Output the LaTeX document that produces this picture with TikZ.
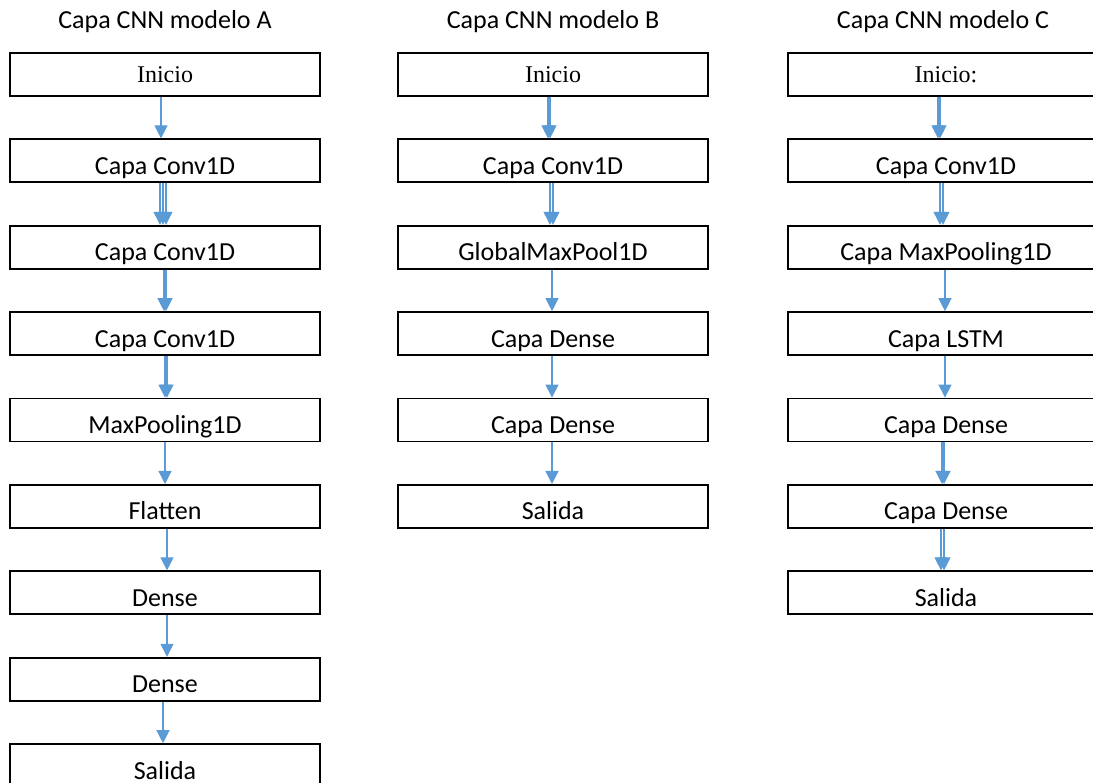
\documentclass[tikz,border=0pt]{standalone}
\usepackage{fontspec}
\setmainfont{Carlito}
\newfontfamily\serifrm{Liberation Serif}
\usetikzlibrary{arrows.meta}
\definecolor{flowblue}{RGB}{91,155,213}
\begin{document}
\begin{tikzpicture}[x=1pt,y=-1pt,
  layer/.style={draw=black, line width=1.8pt, minimum width=310pt, minimum height=43pt,
    inner sep=0pt, anchor=north, text height=27pt, text depth=0pt,
    font=\fontsize{26}{30}\selectfont},
  start/.style={layer, text height=17pt, font=\serifrm\fontsize{24}{28}\selectfont},
  heading/.style={anchor=base, inner sep=0pt, font=\fontsize{26}{30}\selectfont},
  flow/.style={draw=flowblue, line width=1.2pt, -{Triangle[width=13pt,length=13pt]}}
]
\useasboundingbox (0,0) rectangle (1093,783);

% column headings
\node[heading] (ta) at (165,29) {Capa CNN modelo A};
\node[heading] (tb) at (553,29) {Capa CNN modelo B};
\node[heading] (tc) at (943,29) {Capa CNN modelo C};

% model A
\node[start] (a1) at (165,52)    {Inicio};
\node[layer] (a2) at (165,138.4) {Capa Conv1D};
\node[layer] (a3) at (165,224.8) {Capa Conv1D};
\node[layer] (a4) at (165,311.2) {Capa Conv1D};
\node[layer] (a5) at (165,397.6) {MaxPooling1D};
\node[layer] (a6) at (165,484)   {Flatten};
\node[layer] (a7) at (165,570.4) {Dense};
\node[layer] (a8) at (165,656.8) {Dense};
\node[layer] (a9) at (165,743.2) {Salida};

% model B
\node[start] (b1) at (553,52)    {Inicio};
\node[layer] (b2) at (553,138.4) {Capa Conv1D};
\node[layer] (b3) at (553,224.8) {GlobalMaxPool1D};
\node[layer] (b4) at (553,311.2) {Capa Dense};
\node[layer] (b5) at (553,397.6) {Capa Dense};
\node[layer] (b6) at (553,484)   {Salida};

% model C
\node[start, minimum width=316pt] (c1) at (946,52)    {Inicio:};
\node[layer, minimum width=316pt] (c2) at (946,138.4) {Capa Conv1D};
\node[layer, minimum width=316pt] (c3) at (946,224.8) {Capa MaxPooling1D};
\node[layer, minimum width=316pt] (c4) at (946,311.2) {Capa LSTM};
\node[layer, minimum width=316pt] (c5) at (946,397.6) {Capa Dense};
\node[layer, minimum width=316pt] (c6) at (946,484)   {Capa Dense};
\node[layer, minimum width=316pt] (c7) at (946,570.4) {Salida};

% connectors of model A
\draw[flow] ([xshift=-4pt]a1.south) -- ([xshift=-4pt]a2.north);
\foreach \d in {-5,-2,1}
  \draw[flow] ([xshift=\d pt]a2.south) -- ([xshift=\d pt]a3.north);
\foreach \d in {-1,1}
  \draw[flow] ([xshift=\d pt]a3.south) -- ([xshift=\d pt]a4.north);
\foreach \d in {0,2}
  \draw[flow] ([xshift=\d pt]a4.south) -- ([xshift=\d pt]a5.north);
\draw[flow] (a5.south) -- (a6.north);
\draw[flow] ([xshift=2pt]a6.south) -- ([xshift=2pt]a7.north);
\draw[flow] ([xshift=2pt]a7.south) -- ([xshift=2pt]a8.north);
\draw[flow] ([xshift=-2pt]a8.south) -- ([xshift=-2pt]a9.north);

% connectors of model B
\foreach \d in {-5,-3}
  \draw[flow] ([xshift=\d pt]b1.south) -- ([xshift=\d pt]b2.north);
\foreach \d in {-3,0}
  \draw[flow] ([xshift=\d pt]b2.south) -- ([xshift=\d pt]b3.north);
\draw[flow] ([xshift=-1pt]b3.south) -- ([xshift=-1pt]b4.north);
\draw[flow] ([xshift=-1pt]b4.south) -- ([xshift=-1pt]b5.north);
\draw[flow] ([xshift=-1pt]b5.south) -- ([xshift=-1pt]b6.north);

% connectors of model C
\foreach \d in {-8,-6}
  \draw[flow] ([xshift=\d pt]c1.south) -- ([xshift=\d pt]c2.north);
\foreach \d in {-6,-3}
  \draw[flow] ([xshift=\d pt]c2.south) -- ([xshift=\d pt]c3.north);
\draw[flow] ([xshift=-1pt]c3.south) -- ([xshift=-1pt]c4.north);
\draw[flow] ([xshift=-1pt]c4.south) -- ([xshift=-1pt]c5.north);
\foreach \d in {-4,-2}
  \draw[flow] ([xshift=\d pt]c5.south) -- ([xshift=\d pt]c6.north);
\foreach \d in {-5,-2}
  \draw[flow] ([xshift=\d pt]c6.south) -- ([xshift=\d pt]c7.north);
\end{tikzpicture}
\end{document}
